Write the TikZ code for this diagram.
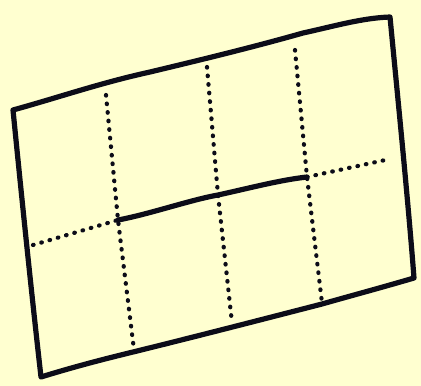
\documentclass[tikz,border=0pt]{standalone}
\usepackage{tikz}
\definecolor{paper}{RGB}{255,255,208}
\definecolor{ink}{RGB}{12,12,24}
\begin{document}
\begin{tikzpicture}[x=1pt,y=-1pt,
  solidline/.style={draw=ink,line width=5.2pt,line cap=round,line join=round},
  dotline/.style={draw=ink,line width=4.2pt,line cap=round,dash pattern=on 0.6pt off 8pt}]
\fill[paper] (0,0) rectangle (421,386);
\useasboundingbox (0,0) rectangle (421,386);
% corners
\coordinate (tl) at (13,110);
\coordinate (tr) at (390,17);
\coordinate (br) at (414,278);
\coordinate (bl) at (41,377);
% grid crossings on the middle line
\coordinate (m1) at (118,220);
\coordinate (m2) at (218,195);
\coordinate (m3) at (307,177);
% dotted line ends
\coordinate (hl) at (33,245);
\coordinate (hr) at (390,159);
\coordinate (t1) at (106,95);
\coordinate (b1) at (134,350);
\coordinate (t2) at (207,67);
\coordinate (b2) at (232,323);
\coordinate (t3) at (295,50);
\coordinate (b3) at (322,303);
% outer frame
\draw[solidline] (tl) .. controls (60,97) and (100,83) .. (150,72)
  .. controls (200,60) and (250,48) .. (303,33)
  .. controls (335,26) and (362,18) .. (tr)
  .. controls (398,100) and (408,200) .. (br)
  .. controls (380,288) and (350,296) .. (322,304)
  .. controls (260,320) and (190,338) .. (133,352)
  .. controls (100,360) and (70,368) .. (bl)
  .. controls (30,280) and (20,180) .. cycle;
% solid middle line
\draw[solidline] (m1) .. controls (150,214) and (190,200) .. (m2)
  .. controls (250,188) and (280,180) .. (m3);
% dotted lines
\draw[dotline] (hl) -- (m1);
\draw[dotline] (m3) -- (hr);
\draw[dotline] (t1) -- (m1) -- (b1);
\draw[dotline] (t2) -- (m2) -- (b2);
\draw[dotline] (t3) -- (m3) -- (b3);
\end{tikzpicture}
\end{document}
